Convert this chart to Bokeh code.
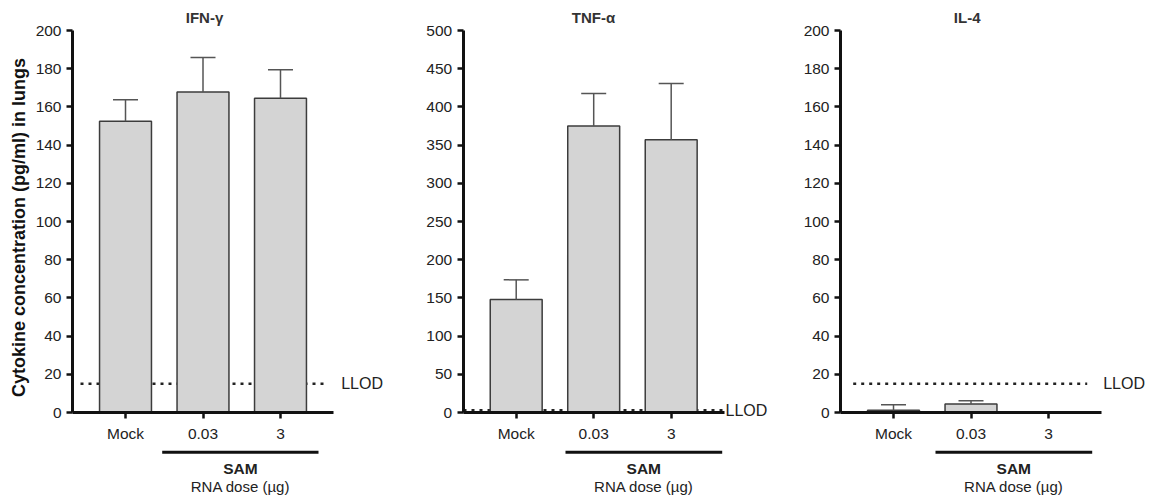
import numpy as np
from bokeh.plotting import figure
from bokeh.layouts import row
from bokeh.models import (Range1d, FixedTicker, Whisker, TeeHead, ColumnDataSource, Label)
from bokeh.embed import file_html
from bokeh.resources import INLINE

# ---------------- data ----------------
categories = ["Mock", "0.03", "3"]
group_label = "SAM"
dose_label = "RNA dose (µg)"
y_label = "Cytokine concentration (pg/ml) in lungs"
llod_label = "LLOD"

titles = ["IFN-γ", "TNF-α", "IL-4"]
ifn_mean = [152.5, 167.8, 164.5]
ifn_err = [11.3, 18.0, 15.0]
tnf_mean = [148.0, 375.0, 357.0]
tnf_err = [25.6, 42.5, 73.5]
il4_mean = [1.2, 4.4, 0.0]
il4_err = [2.8, 1.8, 0.0]
llod_values = [15, 3, 15]
y_max = [200, 500, 200]
y_step = [20, 50, 20]

means = [ifn_mean, tnf_mean, il4_mean]
errs = [ifn_err, tnf_err, il4_err]

# ---------------- layout / style ----------------
FONT = "Liberation Sans"
H = 497
Y_TOP_PX = 30      # pixel row of y = ymax
Y_ZERO_PX = 412    # pixel row of y = 0
X0, X1 = 0.316, 3.684
PXU = 261 / (X1 - X0)   # pixels per x unit

# pixel layout of each panel (local pixel coordinates of the figure)
geom = [
    dict(width=392, axis_px=72, title=(204, 17), llod=(80, 328), llod_lx=340.7,
         bracket=(161.7, 318), sam=(240, 468), rna=(240, 486)),
    dict(width=384, axis_px=70.7, title=(201, 17), llod=(71, 332), llod_lx=333,
         bracket=(173, 329.7), sam=(251.3, 468), rna=(251.3, 486)),
    dict(width=377, axis_px=64, title=(190.7, 17), llod=(76.7, 310.7), llod_lx=326.7,
         bracket=(159, 315.7), sam=(237.3, 468), rna=(237.3, 486)),
]

xs = np.arange(1, len(categories) + 1)

figs = []
for i in range(3):
    g = geom[i]
    ymax = y_max[i]
    ypu = (Y_ZERO_PX - Y_TOP_PX) / ymax          # pixels per y unit
    xstart = X0 - g["axis_px"] / PXU
    xend = xstart + g["width"] / PXU
    yend = ymax + Y_TOP_PX / ypu
    ystart = -(H - Y_ZERO_PX) / ypu

    def dx(px, xstart=xstart):
        return xstart + px / PXU

    def dy(px, yend=yend, ypu=ypu):
        return yend - px / ypu

    p = figure(width=g["width"], height=H, title=None,
               x_range=Range1d(xstart, xend), y_range=Range1d(ystart, yend),
               output_backend="svg", toolbar_location=None,
               min_border_left=0, min_border_right=0,
               min_border_top=0, min_border_bottom=0)
    p.outline_line_color = None
    p.grid.visible = False
    p.background_fill_color = "white"
    p.border_fill_color = "white"

    # LLOD dotted line (under bars)
    lx0, lx1 = g["llod"]
    p.line(x=[dx(lx0), dx(lx1)], y=[llod_values[i], llod_values[i]],
           line_color="#222222", line_width=2.5, line_dash="3 5")

    mean = np.array(means[i], dtype=float)
    err = np.array(errs[i], dtype=float)
    p.vbar(x=xs, top=mean, width=0.67, bottom=0,
           fill_color="#d4d4d4", line_color="#3c3c3c", line_width=1.5)

    mask = err > 0
    src = ColumnDataSource(dict(base=xs[mask], lower=mean[mask], upper=(mean + err)[mask]))
    w = Whisker(base="base", lower="lower", upper="upper", source=src,
                dimension="height", line_color="#555555", line_width=1.5,
                upper_head=TeeHead(size=25, line_color="#555555", line_width=1.5),
                lower_head=None, level="overlay")
    p.add_layout(w)

    # x axis (at y = 0)
    xa = p.xaxis[0]
    xa.fixed_location = 0
    xa.bounds = (X0, X1)
    xa.ticker = FixedTicker(ticks=[float(x) for x in xs])
    xa.major_label_overrides = {float(x): c for x, c in zip(xs, categories)}
    xa.minor_tick_line_color = None
    xa.major_tick_in = 0
    xa.major_tick_out = 6
    xa.major_tick_line_width = 2.5
    xa.major_tick_line_color = "#111111"
    xa.axis_line_width = 3
    xa.axis_line_color = "#111111"
    xa.major_label_text_font = FONT
    xa.major_label_text_font_size = "15.5px"
    xa.major_label_text_color = "#222222"
    xa.major_label_standoff = 6

    # y axis (at x = X0)
    ya = p.yaxis[0]
    ya.fixed_location = X0
    ya.bounds = (0, ymax)
    ya.ticker = FixedTicker(ticks=[float(v) for v in np.arange(0, ymax + 1, y_step[i])])
    ya.minor_tick_line_color = None
    ya.major_tick_in = 0
    ya.major_tick_out = 6
    ya.major_tick_line_width = 2.5
    ya.major_tick_line_color = "#111111"
    ya.axis_line_width = 3
    ya.axis_line_color = "#111111"
    ya.major_label_text_font = FONT
    ya.major_label_text_font_size = "15.5px"
    ya.major_label_text_color = "#222222"
    ya.major_label_standoff = 5

    if i == 0:
        p.add_layout(Label(x=dx(18), y=dy(227), text=y_label, angle=np.pi / 2,
                           text_font=FONT, text_font_size="18px", text_font_style="bold",
                           text_color="#111111", text_align="center", text_baseline="middle"))

    # title
    tx, ty = g["title"]
    p.add_layout(Label(x=dx(tx), y=dy(ty), text=titles[i],
                       text_font=FONT, text_font_size="15px", text_font_style="bold",
                       text_color="#333333", text_align="center", text_baseline="middle"))

    # LLOD label
    p.add_layout(Label(x=dx(g["llod_lx"]), y=llod_values[i], text=llod_label,
                       text_font=FONT, text_font_size="16px", text_color="#222222",
                       text_align="left", text_baseline="middle"))

    # SAM bracket + labels
    b0, b1 = g["bracket"]
    p.line(x=[dx(b0), dx(b1)], y=[dy(451.7), dy(451.7)], line_color="#111111", line_width=3)
    sx, sy = g["sam"]
    p.add_layout(Label(x=dx(sx), y=dy(sy), text=group_label,
                       text_font=FONT, text_font_size="15.5px", text_font_style="bold",
                       text_color="#222222", text_align="center", text_baseline="middle"))
    rx, ry = g["rna"]
    p.add_layout(Label(x=dx(rx), y=dy(ry), text=dose_label,
                       text_font=FONT, text_font_size="15px",
                       text_color="#222222", text_align="center", text_baseline="middle"))
    figs.append(p)

layout = row(*figs)
open("out.html", "w").write(file_html(layout, INLINE))
